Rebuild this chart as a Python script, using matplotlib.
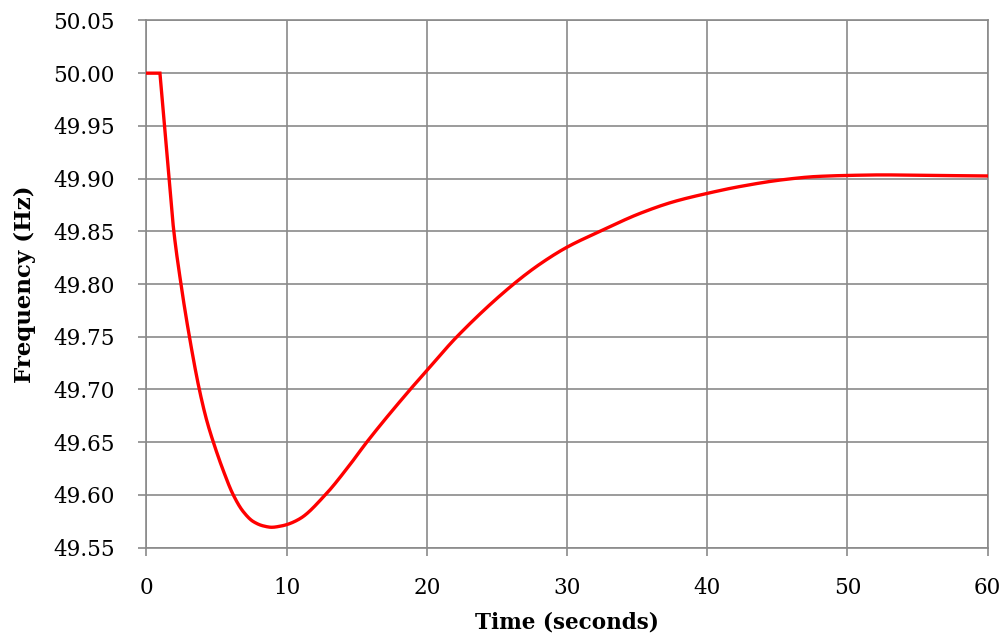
import matplotlib
matplotlib.use("Agg")
import matplotlib.pyplot as plt
import numpy as np

time_s = [0, 0.96, 1.37, 1.60, 1.91, 2.46, 3.05, 3.77, 4.29, 4.77, 5.48, 6.19, 6.91,
          7.62, 8.33, 8.93, 9.64, 10.0, 10.95, 12.75, 14.5, 15.71, 18.81,
          20.0, 22.14, 26.19, 28.07, 30.0, 32.35, 35.2, 37.58, 40.0, 42.33, 45.43,
          47.8, 50.0, 52.5, 56.1, 60.0]
freq_hz = [50.000, 50.000, 49.937, 49.902, 49.855, 49.800, 49.751, 49.700, 49.671,
           49.650, 49.623, 49.600, 49.584, 49.5747, 49.5706, 49.5693, 49.5706, 49.5718,
           49.5775, 49.600, 49.6285, 49.650, 49.700, 49.718, 49.750,
           49.800, 49.819, 49.835, 49.850, 49.867, 49.878, 49.886, 49.8925, 49.899,
           49.902, 49.903, 49.9035, 49.903, 49.9025]

x_ticks = [0, 10, 20, 30, 40, 50, 60]
y_ticks = [49.55, 49.60, 49.65, 49.70, 49.75, 49.80, 49.85, 49.90, 49.95, 50.00, 50.05]


def pchip(x, y, xn):
    x = np.asarray(x, float); y = np.asarray(y, float)
    h = np.diff(x); d = np.diff(y) / h
    m = np.zeros_like(y)
    for k in range(1, len(x) - 1):
        if d[k-1] * d[k] <= 0:
            m[k] = 0.0
        else:
            w1 = 2*h[k] + h[k-1]; w2 = h[k] + 2*h[k-1]
            m[k] = (w1 + w2) / (w1/d[k-1] + w2/d[k])
    m[0] = d[0]; m[-1] = d[-1]
    idx = np.clip(np.searchsorted(x, xn) - 1, 0, len(x) - 2)
    hh = h[idx]; s = (xn - x[idx]) / hh
    h00 = 2*s**3 - 3*s**2 + 1; h10 = s**3 - 2*s**2 + s
    h01 = -2*s**3 + 3*s**2; h11 = s**3 - s**2
    return h00*y[idx] + h10*hh*m[idx] + h01*y[idx+1] + h11*hh*m[idx+1]


plt.rcParams['font.family'] = ['DejaVu Serif']
fig = plt.figure(figsize=(10.06, 6.39), dpi=100)
ax = fig.add_axes([0.1456, 0.143, 0.8362, 0.825])

t = np.array(time_s); f = np.array(freq_hz)
tn = np.linspace(t[1], t[-1], 2000)
fn = pchip(t[1:], f[1:], tn)
ax.plot(np.concatenate([[t[0]], tn]), np.concatenate([[f[0]], fn]),
        color='#ff0000', lw=2.4, solid_joinstyle='miter', zorder=3)

ax.set_xlim(0, 60)
ax.set_ylim(49.55, 50.05)
ax.set_xticks(x_ticks)
ax.set_yticks(y_ticks)
ax.set_xticklabels([str(v) for v in x_ticks])
ax.set_yticklabels([f"{v:.2f}" for v in y_ticks])
ax.grid(True, color='#8a8a8a', lw=1.2)
ax.set_axisbelow(True)
for sp in ax.spines.values():
    sp.set_color('#8a8a8a'); sp.set_linewidth(1.2)
ax.tick_params(axis='both', colors='#8a8a8a', labelcolor='black', labelsize=15.5,
               length=6, width=1.2, direction='out')
ax.tick_params(axis='y', pad=17)
ax.tick_params(axis='x', pad=15)
ax.set_xlabel('Time (seconds)', fontsize=15.5, fontweight='bold', labelpad=9)
ax.set_ylabel('Frequency (Hz)', fontsize=16.5, fontweight='bold', labelpad=12)

fig.savefig('out.png', dpi=100)
